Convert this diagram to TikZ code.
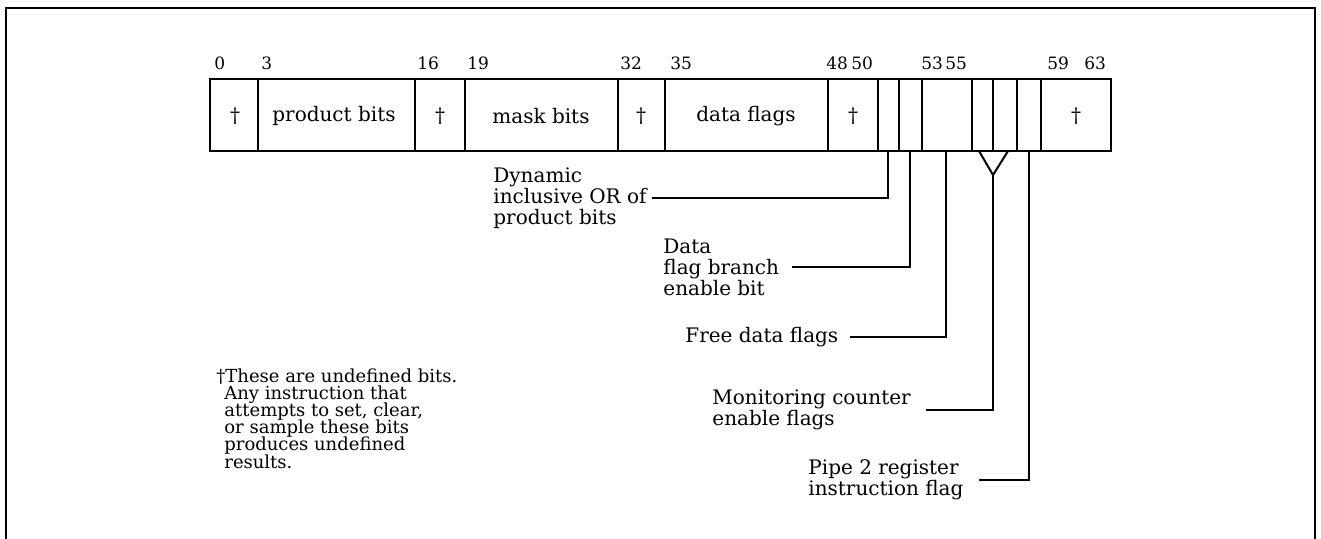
\documentclass[tikz,border=0pt]{standalone}
\usepackage{fontspec}
\setmainfont{DejaVu Serif}

\begin{document}
\begin{tikzpicture}[x=0.5pt, y=-0.5pt]
  % styles
  \tikzset{
    frm/.style={draw=black, line width=1.2pt},
    reg/.style={draw=black, line width=1pt},
    lead/.style={draw=black, line width=1pt},
    num/.style={font=\fontsize{8.5}{10}\selectfont, inner sep=0pt, anchor=base west},
    fld/.style={font=\fontsize{10}{11}\selectfont, inner sep=0pt},
    lbl/.style={font=\fontsize{10}{10.5}\selectfont, align=left, inner sep=0pt, anchor=west},
    note/.style={font={\fontsize{9}{8.6}\selectfont\lineskiplimit=-20pt\relax},
                 align=left, inner sep=0pt, anchor=north west}
  }
  \useasboundingbox (0,0) rectangle (1321,539);

  % outer frame (open at the bottom)
  \draw[frm] (6,539) -- (6,8) -- (1315,8) -- (1315,539);

  % register box and field boundaries
  \coordinate (rtl) at (210,79);    % top-left
  \coordinate (rbr) at (1111,151);  % bottom-right
  \draw[reg] (rtl) rectangle (rbr);
  \foreach \x in {258,415,465,618,665,828,878,899,922,972,993,1017,1041}
    \draw[reg] (\x,79) -- (\x,151);

  % bit numbers
  \foreach \x/\n in {214/0, 261/3, 417/16, 467/19, 620/32, 670/35,
                     826/48, 851/50, 921/53, 945/55, 1047/59, 1084/63}
    \node[num] (b\n) at (\x,70) {\n};

  % field texts
  \node[fld] (u0)    at (235,116)   {†};
  \node[fld] (prod)  at (334,116)   {product bits};
  \node[fld] (u16)   at (440,116)   {†};
  \node[fld] (mask)  at (541,116)   {mask bits};
  \node[fld] (u32)   at (641,116)   {†};
  \node[fld] (flags) at (746,116)   {data flags};
  \node[fld] (u48)   at (853,116)   {†};
  \node[fld] (u59)   at (1076,116)  {†};

  % tap points under the narrow fields
  \coordinate (f50)  at (888,151);
  \coordinate (f51)  at (910,151);
  \coordinate (f53)  at (946,151);
  \coordinate (f55)  at (979,151);
  \coordinate (f56)  at (1008,151);
  \coordinate (vtip) at (993,175);  % where the two monitoring bits join
  \coordinate (f57)  at (1029,151);

  % labels
  \node[lbl] (orbit) at (493,198) {Dynamic\\inclusive OR of\\product bits};
  \node[lbl] (dfb)   at (663,267) {Data\\flag branch\\enable bit};
  \node[lbl] (free)  at (685,337) {Free data flags};
  \node[lbl] (mon)   at (712,410) {Monitoring counter\\enable flags};
  \node[lbl] (pipe)  at (808,480) {Pipe 2 register\\instruction flag};

  % leaders
  \draw[lead] ([xshift=2.5pt]orbit.east) -| (f50);
  \draw[lead] ([xshift=6.5pt]dfb.east) -| (f51);
  \draw[lead] ([xshift=5.5pt]free.east) -| (f53);
  \draw[lead] (f55) -- (vtip) -- (f56);
  \draw[lead] ([xshift=7.5pt]mon.east) -| (vtip);
  \draw[lead] ([xshift=7.5pt]pipe.east) -| (f57);

  % footnote
  \node[note] (fn) at (216,368) {†These are undefined bits.\\
    \hspace*{4pt}Any instruction that\\
    \hspace*{4pt}attempts to set, clear,\\
    \hspace*{4pt}or sample these bits\\
    \hspace*{4pt}produces undefined\\
    \hspace*{4pt}results.};
\end{tikzpicture}
\end{document}
